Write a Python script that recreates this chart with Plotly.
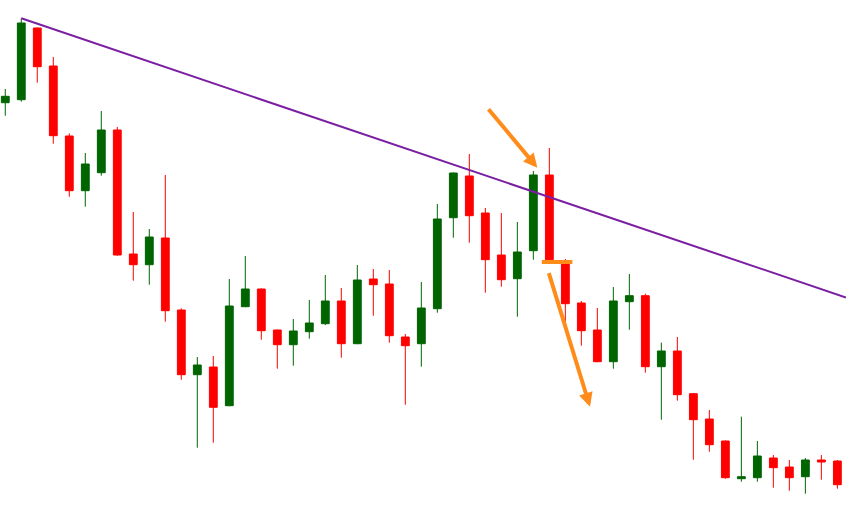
import plotly.graph_objects as go

# Candle index and OHLC values (price units)
idx = list(range(53))
opens = [397.3, 400.3, 472, 434, 364, 309.3, 327.3, 370, 246, 235.3,
         262, 190, 125.3, 133, 94.3, 193.3, 211, 170, 155.3, 168.3,
         176.3, 199, 156.3, 221, 216, 163, 156.3, 191.3, 282.3, 324,
         287, 245, 221.3, 249.3, 325, 238.3, 197, 170, 138.3, 198.3,
         204.3, 133.3, 149, 106.3, 81, 59, 21.3, 22.3, 42, 33,
         23.3, 40, 39]
highs = [411, 481.7, 472.5, 443, 366.7, 347, 389, 373, 288, 271,
         325, 191.7, 143, 144, 221, 244, 211.5, 170.5, 181, 200,
         225, 212, 235, 231, 230, 166, 218, 296, 327.5, 346,
         292, 287, 278, 329, 352, 241, 199, 192, 213, 226,
         206.3, 157.3, 163, 106.8, 90, 59.5, 83.3, 59, 45, 40,
         42, 45, 40]
lows = [384.3, 398.3, 417.3, 356.3, 303.3, 293.3, 324.3, 244.3, 219.3, 215.3,
        178.3, 120.3, 52.3, 57.3, 93.8, 192.8, 160.3, 131.3, 134.3, 161.3,
        175, 142.3, 155.8, 184.3, 157.3, 95.3, 133.3, 187.3, 262.3, 257.3,
        207.3, 213.3, 183.3, 240.3, 239.8, 178.3, 154.3, 137.8, 131.3, 170.3,
        127.3, 80.3, 99.3, 40.3, 48.3, 21.3, 18.3, 18.3, 12.3, 9.3,
        6.3, 20.3, 11.3]
closes = [403.7, 477, 433.3, 364.3, 309.3, 336, 370, 245, 235.3, 263,
          189.3, 125.3, 135, 92.7, 194, 211, 169.3, 155.3, 169, 177,
          199, 156.3, 220, 215.3, 164.3, 154.3, 192, 281, 327, 284.3,
          240.3, 220.3, 248, 325, 240.3, 196.3, 169.3, 138.3, 199, 204.3,
          133.3, 149, 105.3, 80.3, 55.3, 22.3, 23.3, 44, 32.3, 22.3,
          40, 38, 15.3]

# Trendline (candle index, price)
trend_x = [1, 52.54]
trend_y = [481.7, 202.5]

# Annotation arrows (tail index, tail price, head index, head price)
arrow1 = (30.12, 392.3, 33.25, 332.3)
arrow2 = (33.94, 228.3, 36.54, 93.3)
hline_x = [33.53, 35.44]
hline_y = [238, 238]

GREEN = "#006400"
RED = "#FF0000"
PURPLE = "#7B1FA2"
ORANGE = "#FF8C1A"

fig = go.Figure()
fig.add_trace(go.Candlestick(
    x=idx, open=opens, high=highs, low=lows, close=closes,
    increasing=dict(line=dict(color=GREEN, width=1), fillcolor=GREEN),
    decreasing=dict(line=dict(color=RED, width=1), fillcolor=RED),
    whiskerwidth=0, showlegend=False, hoverinfo="skip",
))
fig.add_trace(go.Scatter(
    x=trend_x, y=trend_y, mode="lines",
    line=dict(color=PURPLE, width=2), showlegend=False, hoverinfo="skip",
))
fig.add_trace(go.Scatter(
    x=hline_x, y=hline_y, mode="lines",
    line=dict(color=ORANGE, width=4), showlegend=False, hoverinfo="skip",
))

for (tx, ty, hx, hy) in (arrow1, arrow2):
    fig.add_annotation(
        x=hx, y=hy, ax=tx, ay=ty, xref="x", yref="y", axref="x", ayref="y",
        text="", showarrow=True, arrowhead=2, arrowsize=0.7, arrowwidth=4,
        arrowcolor=ORANGE, standoff=0,
    )

fig.update_layout(
    width=846, height=505,
    margin=dict(l=0, r=0, t=0, b=0),
    paper_bgcolor="white", plot_bgcolor="white",
    xaxis=dict(range=[-0.33, 52.54], visible=False, rangeslider=dict(visible=False),
               fixedrange=True),
    yaxis=dict(range=[-5, 500], visible=False, fixedrange=True),
    showlegend=False,
)

fig.write_html(
    "out.html",
    config={"displayModeBar": False},
    post_script="document.body.style.margin='0px';document.body.style.overflow='hidden';",
)
